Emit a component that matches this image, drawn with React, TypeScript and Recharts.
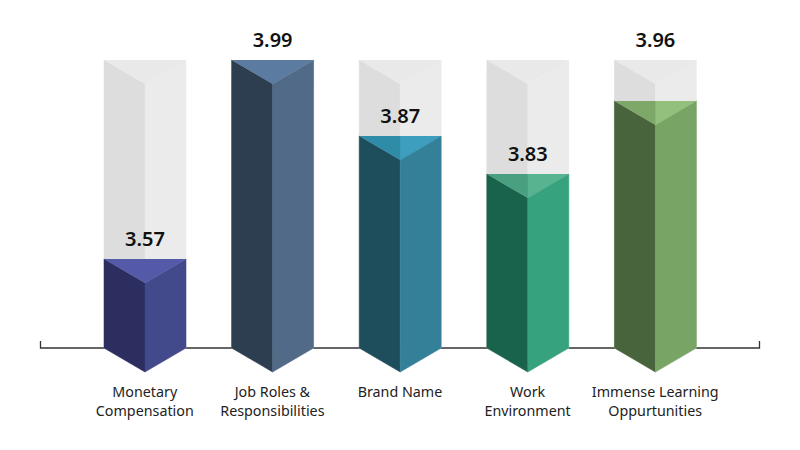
import React from "react";
import { BarChart, Bar, XAxis, YAxis, LabelList } from "recharts";

const categories = [
  "Monetary\nCompensation",
  "Job Roles &\nResponsibilities",
  "Brand Name",
  "Work\nEnvironment",
  "Immense Learning\nOppurtunities",
];
const scores = [3.57, 3.99, 3.87, 3.83, 3.96];
// Drawn height of each column as a share of the full track (the source is not to a linear scale)
const fillLevels = [30.9, 100, 73.6, 60.4, 85.8];
const leftFaceColors = ["#2b2e5e", "#2d3e50", "#1e4e5c", "#19634c", "#48643c"];
const rightFaceColors = ["#424a8c", "#506a88", "#348099", "#37a27e", "#78a466"];
const topLeftColors = ["#5459a8", "#5c7ba0", "#2f8ca8", "#48a081", "#7da868"];
const topRightColors = ["#5459a8", "#5c7ba0", "#3e9ebd", "#58b391", "#93c07c"];

const data = categories.map((name, i) => ({
  name,
  score: scores[i],
  level: fillLevels[i],
  track: 100,
}));

const FONT = "'Noto Sans', sans-serif";
const BEVEL = 24;

const poly = (pts: number[][]) => pts.map((p) => p.join(",")).join(" ");

function Prism({ x, y, width, height, left, right, topL, topR }: any) {
  const cx = x + width / 2;
  const r = x + width;
  const b = y + height;
  return (
    <g strokeWidth={0.5}>
      <polygon points={poly([[x, y], [cx, y + BEVEL], [cx, b + BEVEL], [x, b]])} fill={left} stroke={left} />
      <polygon points={poly([[cx, y + BEVEL], [r, y], [r, b], [cx, b + BEVEL]])} fill={right} stroke={right} />
      <polygon points={poly([[x, y], [r, y], [cx, y + BEVEL]])} fill={topL} />
      {topR !== topL && <polygon points={poly([[cx, y], [r, y], [cx, y + BEVEL]])} fill={topR} />}
    </g>
  );
}

const TrackShape = (p: any) => (
  <Prism x={p.x} y={p.y} width={p.width} height={p.height} left="#dddddd" right="#ebebeb" topL="#e9e9e9" topR="#e9e9e9" />
);

const FillShape = (p: any) => (
  <Prism
    x={p.x}
    y={p.y}
    width={p.width}
    height={p.height}
    left={leftFaceColors[p.index]}
    right={rightFaceColors[p.index]}
    topL={topLeftColors[p.index]}
    topR={topRightColors[p.index]}
  />
);

const ScoreLabel = (p: any) => {
  const level = fillLevels[p.index];
  const anchorY = level > 85 ? p.y + p.height - (p.height / level) * 100 : p.y;
  return (
    <text
      x={p.x + p.width / 2}
      y={anchorY - 13}
      textAnchor="middle"
      fontFamily={FONT}
      fontSize={20}
      fontWeight={600}
      fill="#111111"
    >
      {Number(p.value).toFixed(2)}
    </text>
  );
};

const CategoryTick = ({ x, y, payload }: any) => {
  const lines = String(payload.value).split("\n");
  return (
    <text x={x} y={y + 41} textAnchor="middle" fontFamily={FONT} fontSize={14.3} fill="#222222">
      {lines.map((line, i) => (
        <tspan key={line} x={x} dy={i === 0 ? 0 : 18.5}>
          {line}
        </tspan>
      ))}
    </text>
  );
};

export default function App() {
  return (
    <div style={{ position: "absolute", left: 0, top: 0, width: 800, height: 450, background: "#fff" }}>
      <BarChart
        width={800}
        height={450}
        data={data}
        margin={{ top: 60, right: 40, bottom: 0, left: 40 }}
        barSize={82}
        barGap={-82}
      >
        <path d="M40.5 341V348H759.5V341" stroke="#333333" strokeWidth={1.3} fill="none" />
        <XAxis
          dataKey="name"
          height={102}
          padding={{ left: 41, right: 41 }}
          axisLine={false}
          tickLine={false}
          interval={0}
          tick={<CategoryTick />}
        />
        <YAxis hide domain={[0, 100]} />
        <Bar dataKey="track" isAnimationActive={false} shape={TrackShape} />
        <Bar dataKey="level" isAnimationActive={false} shape={FillShape}>
          <LabelList dataKey="score" content={ScoreLabel} />
        </Bar>
      </BarChart>
    </div>
  );
}
